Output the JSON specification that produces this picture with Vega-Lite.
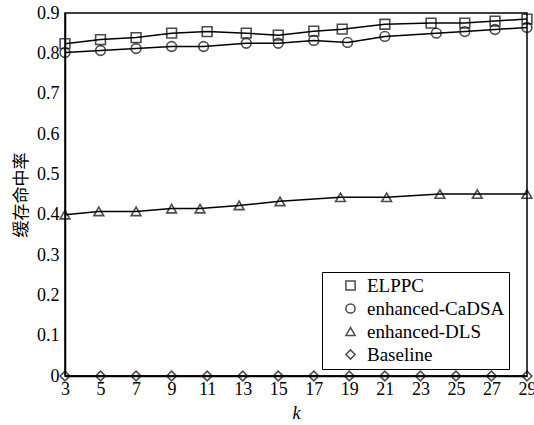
{
  "$schema": "https://vega.github.io/schema/vega-lite/v6.json",
  "autosize": {"type": "none"},
  "padding": {"left": 65, "top": 13, "right": 7, "bottom": 49},
  "width": 462,
  "height": 363,
  "background": "white",
  "config": {
    "view": {"stroke": "black", "strokeWidth": 1.5},
    "font": "Liberation Serif"
  },
  "data": {
    "values": [
      {"k": 3, "v": 0.824, "s": "ELPPC"},
      {"k": 5, "v": 0.834, "s": "ELPPC"},
      {"k": 7, "v": 0.839, "s": "ELPPC"},
      {"k": 9, "v": 0.850, "s": "ELPPC"},
      {"k": 11, "v": 0.854, "s": "ELPPC"},
      {"k": 13.2, "v": 0.850, "s": "ELPPC"},
      {"k": 15, "v": 0.845, "s": "ELPPC"},
      {"k": 17, "v": 0.855, "s": "ELPPC"},
      {"k": 18.6, "v": 0.860, "s": "ELPPC"},
      {"k": 21, "v": 0.872, "s": "ELPPC"},
      {"k": 23.6, "v": 0.875, "s": "ELPPC"},
      {"k": 25.5, "v": 0.875, "s": "ELPPC"},
      {"k": 27.2, "v": 0.880, "s": "ELPPC"},
      {"k": 29, "v": 0.885, "s": "ELPPC"},
      {"k": 3, "v": 0.802, "s": "enhanced-CaDSA"},
      {"k": 5, "v": 0.807, "s": "enhanced-CaDSA"},
      {"k": 7, "v": 0.812, "s": "enhanced-CaDSA"},
      {"k": 9, "v": 0.817, "s": "enhanced-CaDSA"},
      {"k": 10.8, "v": 0.817, "s": "enhanced-CaDSA"},
      {"k": 13.2, "v": 0.825, "s": "enhanced-CaDSA"},
      {"k": 15, "v": 0.825, "s": "enhanced-CaDSA"},
      {"k": 17, "v": 0.832, "s": "enhanced-CaDSA"},
      {"k": 18.9, "v": 0.827, "s": "enhanced-CaDSA"},
      {"k": 21, "v": 0.842, "s": "enhanced-CaDSA"},
      {"k": 23.9, "v": 0.850, "s": "enhanced-CaDSA"},
      {"k": 25.5, "v": 0.854, "s": "enhanced-CaDSA"},
      {"k": 27.2, "v": 0.859, "s": "enhanced-CaDSA"},
      {"k": 29, "v": 0.864, "s": "enhanced-CaDSA"},
      {"k": 3, "v": 0.400, "s": "enhanced-DLS"},
      {"k": 4.9, "v": 0.408, "s": "enhanced-DLS"},
      {"k": 7, "v": 0.408, "s": "enhanced-DLS"},
      {"k": 9, "v": 0.415, "s": "enhanced-DLS"},
      {"k": 10.6, "v": 0.415, "s": "enhanced-DLS"},
      {"k": 12.8, "v": 0.423, "s": "enhanced-DLS"},
      {"k": 15.1, "v": 0.433, "s": "enhanced-DLS"},
      {"k": 18.5, "v": 0.443, "s": "enhanced-DLS"},
      {"k": 21.1, "v": 0.443, "s": "enhanced-DLS"},
      {"k": 24.1, "v": 0.451, "s": "enhanced-DLS"},
      {"k": 26.2, "v": 0.451, "s": "enhanced-DLS"},
      {"k": 29, "v": 0.451, "s": "enhanced-DLS"},
      {"k": 3, "v": 0, "s": "Baseline"},
      {"k": 5, "v": 0, "s": "Baseline"},
      {"k": 7, "v": 0, "s": "Baseline"},
      {"k": 9, "v": 0, "s": "Baseline"},
      {"k": 11, "v": 0, "s": "Baseline"},
      {"k": 13, "v": 0, "s": "Baseline"},
      {"k": 15, "v": 0, "s": "Baseline"},
      {"k": 17, "v": 0, "s": "Baseline"},
      {"k": 19, "v": 0, "s": "Baseline"},
      {"k": 21, "v": 0, "s": "Baseline"},
      {"k": 23, "v": 0, "s": "Baseline"},
      {"k": 25, "v": 0, "s": "Baseline"},
      {"k": 27, "v": 0, "s": "Baseline"},
      {"k": 29, "v": 0, "s": "Baseline"}
    ]
  },
  "encoding": {
    "x": {
      "field": "k", "type": "quantitative",
      "scale": {"domain": [3, 29], "nice": false, "zero": false},
      "axis": {
        "values": [3,5,7,9,11,13,15,17,19,21,23,25,27,29],
        "title": "k", "titleFontStyle": "italic", "titleFontWeight": "normal",
        "titleFontSize": 18, "titleFont": "Liberation Serif", "titlePadding": 6,
        "labelFontSize": 18, "labelFont": "Liberation Serif", "labelColor": "black",
        "labelPadding": 4, "ticks": false, "grid": false,
        "domainColor": "black", "domainWidth": 1.5, "labelFlush": false, "labelOverlap": false
      }
    },
    "y": {
      "field": "v", "type": "quantitative",
      "scale": {"domain": [0, 0.9], "nice": false},
      "axis": {
        "values": [0,0.1,0.2,0.3,0.4,0.5,0.6,0.7,0.8,0.9],
        "format": "~g",
        "title": "缓存命中率", "titleFont": "Noto Sans CJK SC", "titleFontWeight": "normal",
        "titleFontSize": 17, "titlePadding": 6,
        "labelFontSize": 18, "labelFont": "Liberation Serif", "labelColor": "black",
        "labelPadding": 6, "ticks": false, "grid": false,
        "domainColor": "black", "domainWidth": 1.5, "labelFlush": false, "labelOverlap": false
      }
    }
  },
  "layer": [
    {
      "mark": {"type": "line", "color": "black", "strokeWidth": 1.5, "clip": false},
      "encoding": {"detail": {"field": "s"}}
    },
    {
      "mark": {"type": "point", "filled": false, "color": "black", "strokeWidth": 1.6, "size": 95, "clip": false},
      "encoding": {
        "shape": {
          "field": "s", "type": "nominal",
          "scale": {
            "domain": ["ELPPC", "enhanced-CaDSA", "enhanced-DLS", "Baseline"],
            "range": ["square", "circle", "triangle-up", "diamond"]
          },
          "legend": {
            "title": null,
            "orient": "none",
            "legendX": 257,
            "legendY": 259,
            "padding": 4,
            "strokeColor": "black",
            "fillColor": "white",
            "labelFontSize": 19,
            "labelFont": "Liberation Serif",
            "labelColor": "black",
            "labelLimit": 300,
            "symbolSize": 85,
            "symbolOffset": 15,
            "labelOffset": 7,
            "symbolStrokeColor": "black",
            "symbolFillColor": "transparent",
            "symbolStrokeWidth": 1.5,
            "rowPadding": 3
          }
        }
      }
    }
  ]
}
